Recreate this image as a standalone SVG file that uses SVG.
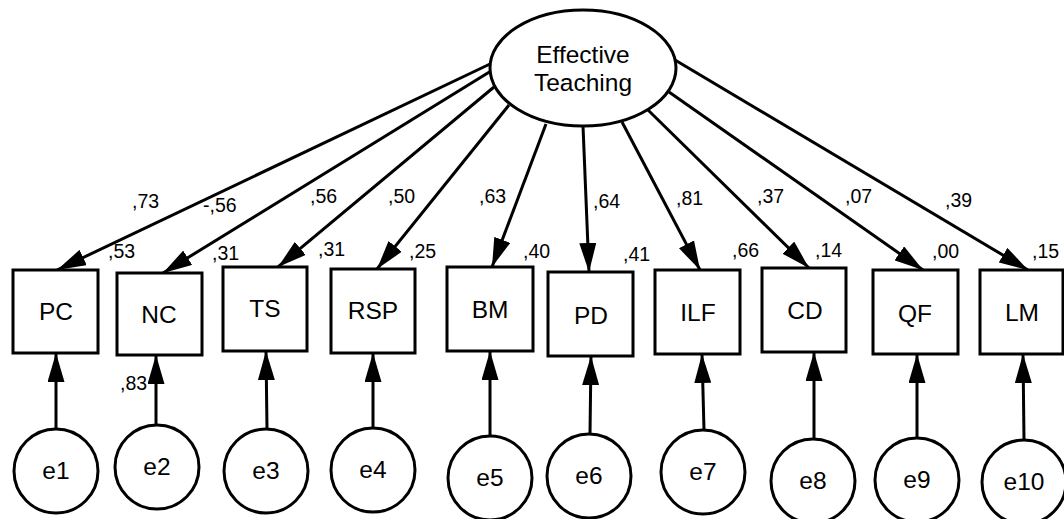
<svg xmlns="http://www.w3.org/2000/svg" width="1064" height="519" viewBox="0 0 1064 519">
<style>
.b{fill:#fff;stroke:#000;stroke-width:3}
.t{font-family:"Liberation Sans",Arial,sans-serif;font-size:24.5px;fill:#000;text-anchor:middle}
.n{font-family:"Liberation Sans",Arial,sans-serif;font-size:19.5px;fill:#000}
.c line{stroke:#000;stroke-width:3;marker-end:url(#ah)}
</style>
<defs>
<marker id="ah" viewBox="0 0 29 17" refX="29" refY="8.5" markerWidth="29" markerHeight="17" markerUnits="userSpaceOnUse" orient="auto">
<path d="M0,0 L29,8.5 L0,17 z" fill="#000"/>
</marker>
</defs>
<rect width="1064" height="519" fill="#fff"/>
<g id="connectors" class="c">
<line x1="490" y1="64" x2="57" y2="270"/>
<line x1="491" y1="71" x2="163" y2="273"/>
<line x1="494" y1="87" x2="278" y2="267"/>
<line x1="509" y1="105" x2="377" y2="269"/>
<line x1="546" y1="124" x2="492" y2="267"/>
<line x1="583" y1="126" x2="589" y2="272"/>
<line x1="622" y1="122" x2="700" y2="270"/>
<line x1="648" y1="110" x2="809" y2="268"/>
<line x1="669" y1="92" x2="923" y2="270"/>
<line x1="675" y1="60" x2="1028" y2="270"/>
<line x1="56" y1="429" x2="56" y2="353"/>
<line x1="156" y1="425" x2="156" y2="355"/>
<line x1="267" y1="429" x2="266" y2="351"/>
<line x1="373" y1="428" x2="373" y2="353"/>
<line x1="490" y1="436" x2="490" y2="351"/>
<line x1="590" y1="434" x2="591" y2="356"/>
<line x1="704" y1="430" x2="702" y2="354"/>
<line x1="814" y1="439" x2="814" y2="352"/>
<line x1="917" y1="438" x2="917" y2="354"/>
<line x1="1024" y1="440" x2="1023" y2="354"/>
</g>
<g id="effective-teaching">
<ellipse class="b" cx="583" cy="68" rx="93" ry="58"/>
<text class="t" x="583" y="63">Effective</text>
<text class="t" x="583" y="91">Teaching</text>
</g>
<g id="PC"><rect class="b" x="13" y="270" width="85" height="83"/><text class="t" x="56" y="320">PC</text></g>
<g id="NC"><rect class="b" x="117" y="273" width="85" height="82"/><text class="t" x="159" y="323">NC</text></g>
<g id="TS"><rect class="b" x="223" y="267" width="84" height="84"/><text class="t" x="265" y="317">TS</text></g>
<g id="RSP"><rect class="b" x="331" y="269" width="84" height="84"/><text class="t" x="373" y="319">RSP</text></g>
<g id="BM"><rect class="b" x="447" y="267" width="86" height="84"/><text class="t" x="490" y="318">BM</text></g>
<g id="PD"><rect class="b" x="548" y="272" width="85" height="84"/><text class="t" x="591" y="324">PD</text></g>
<g id="ILF"><rect class="b" x="655" y="270" width="85" height="84"/><text class="t" x="698" y="321">ILF</text></g>
<g id="CD"><rect class="b" x="762" y="268" width="84" height="84"/><text class="t" x="805" y="319">CD</text></g>
<g id="QF"><rect class="b" x="873" y="270" width="85" height="84"/><text class="t" x="915" y="322">QF</text></g>
<g id="LM"><rect class="b" x="980" y="270" width="83" height="84"/><text class="t" x="1022" y="321">LM</text></g>
<g id="e1"><circle class="b" cx="56" cy="471" r="42"/><text class="t" x="56" y="479">e1</text></g>
<g id="e2"><circle class="b" cx="157" cy="467" r="42"/><text class="t" x="157" y="475">e2</text></g>
<g id="e3"><circle class="b" cx="266" cy="471" r="42"/><text class="t" x="266" y="479">e3</text></g>
<g id="e4"><circle class="b" cx="373" cy="470" r="42"/><text class="t" x="373" y="478">e4</text></g>
<g id="e5"><circle class="b" cx="490" cy="478" r="42"/><text class="t" x="490" y="486">e5</text></g>
<g id="e6"><circle class="b" cx="589" cy="476" r="42"/><text class="t" x="589" y="484">e6</text></g>
<g id="e7"><circle class="b" cx="703" cy="472" r="42"/><text class="t" x="703" y="480">e7</text></g>
<g id="e8"><circle class="b" cx="813" cy="481" r="42"/><text class="t" x="813" y="489">e8</text></g>
<g id="e9"><circle class="b" cx="917" cy="480" r="42"/><text class="t" x="917" y="488">e9</text></g>
<g id="e10"><circle class="b" cx="1024" cy="482" r="42"/><text class="t" x="1024" y="490">e10</text></g>
<g id="labels">
<text class="n" x="132" y="208">,73</text>
<text class="n" x="203" y="212">-,56</text>
<text class="n" x="310" y="203">,56</text>
<text class="n" x="388" y="203">,50</text>
<text class="n" x="479" y="203">,63</text>
<text class="n" x="593" y="208">,64</text>
<text class="n" x="676" y="205">,81</text>
<text class="n" x="757" y="203">,37</text>
<text class="n" x="845" y="203">,07</text>
<text class="n" x="945" y="207">,39</text>
<text class="n" x="108" y="258">,53</text>
<text class="n" x="212" y="260">,31</text>
<text class="n" x="318" y="256">,31</text>
<text class="n" x="409" y="258">,25</text>
<text class="n" x="523" y="258">,40</text>
<text class="n" x="623" y="261">,41</text>
<text class="n" x="732" y="257">,66</text>
<text class="n" x="815" y="257">,14</text>
<text class="n" x="932" y="258">,00</text>
<text class="n" x="1032" y="258">,15</text>
<text class="n" x="120" y="390">,83</text>
</g>
</svg>
